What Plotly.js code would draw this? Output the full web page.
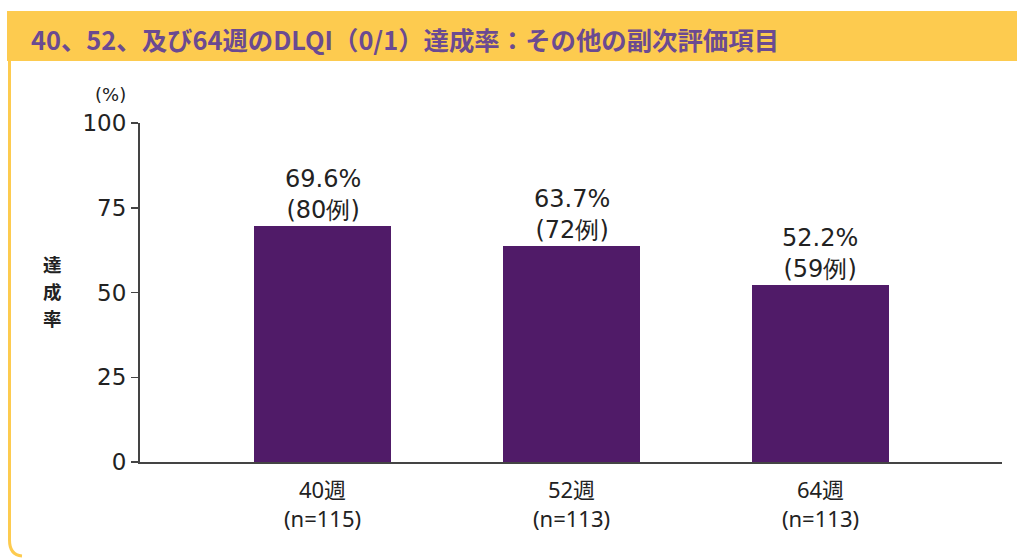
<!DOCTYPE html>
<html>
<head>
<meta charset="utf-8">
<script src="https://cdn.plot.ly/plotly-3.0.1.min.js"></script>
<style>
html,body{margin:0;padding:0;background:#fff;}
#chart{width:1017px;height:558px;}
</style>
</head>
<body>
<div id="chart"></div>
<script>
// ---- data ----
const weeks = ['40週', '52週', '64週'];
const nTotal = [115, 113, 113];
const rates = [69.6, 63.7, 52.2];
const counts = [80, 72, 59];
const yTicks = [0, 25, 50, 75, 100];

const titleText = '40、52、及び64週のDLQI（0/1）達成率：その他の副次評価項目';
const yTitle = '達成率';
const yUnit = '(%)';

// ---- styling ----
const barColor = '#501b68';
const axisColor = '#444444';
const textColor = '#222222';
const wideFont = 'DejaVu Sans';
const numFont = 'Noto Sans, Noto Sans CJK JP, sans-serif';
const cjkFont = 'Noto Sans CJK JP, sans-serif';
const frameColor = '#fdcb4f';

const xPos = weeks.map((_, i) => i);
const tickText = weeks.map((w, i) => w + '<br>(n=' + nTotal[i] + ')');

const trace = {
  type: 'bar',
  x: xPos,
  y: rates,
  width: 0.55,
  marker: {color: barColor},
  hoverinfo: 'none'
};

// plot area: x 140..1002, y 123..462
const W = 862, H = 339, L = 140, B = 462;
const px = v => (v - L) / W;
const py = v => (B - v) / H;

const annotations = rates.map((r, i) => ({
  x: xPos[i], y: r, xref: 'x', yref: 'y',
  text: r.toFixed(1) + '%<br>(' + counts[i] + '例)',
  showarrow: false, xanchor: 'center', yanchor: 'middle', yshift: 32,
  font: {family: wideFont, size: 24, color: textColor}
}));

annotations.push({
  x: px(29), y: py(39), xref: 'paper', yref: 'paper',
  text: '<b>' + titleText + '</b>', showarrow: false,
  xanchor: 'left', yanchor: 'middle',
  font: {family: cjkFont, size: 25.4, color: '#6b4a91'}
});
yTitle.split('').forEach((ch, k) => {
  annotations.push({
    x: px(52), y: py(264 + k * 27), xref: 'paper', yref: 'paper',
    text: '<b>' + ch + '</b>', showarrow: false,
    xanchor: 'center', yanchor: 'middle',
    font: {family: cjkFont, size: 18.5, color: textColor}
  });
});
annotations.push({
  x: px(128), y: py(95), xref: 'paper', yref: 'paper',
  text: yUnit, showarrow: false, xanchor: 'right', yanchor: 'middle',
  font: {family: wideFont, size: 18, color: textColor}
});

const shapes = [
  {type: 'rect', xref: 'paper', yref: 'paper',
   x0: px(7), x1: px(1020), y0: py(61), y1: py(11),
   fillcolor: frameColor, line: {width: 0}, layer: 'below'},
  {type: 'path', xref: 'paper', yref: 'paper',
   path: 'M ' + px(9.5) + ' ' + py(61) + ' L ' + px(9.5) + ' ' + py(540) +
         ' Q ' + px(9.5) + ' ' + py(555) + ' ' + px(22) + ' ' + py(556),
   line: {color: frameColor, width: 3}, layer: 'below'}
];

const layout = {
  width: 1017, height: 558,
  margin: {l: 140, r: 15, t: 123, b: 96},
  paper_bgcolor: '#ffffff', plot_bgcolor: '#ffffff',
  showlegend: false,
  bargap: 0,
  xaxis: {
    range: [-0.733, 2.729], tickvals: xPos, ticktext: tickText,
    showline: true, linecolor: axisColor, linewidth: 2,
    ticks: '', showgrid: false, zeroline: false, fixedrange: true,
    ticklabelstandoff: 8,
    tickfont: {family: numFont, size: 22, color: textColor}
  },
  yaxis: {
    range: [0, 100], tickvals: yTicks,
    showline: true, linecolor: axisColor, linewidth: 2,
    ticks: 'outside', ticklen: 7, tickwidth: 1.5, tickcolor: axisColor,
    showgrid: false, zeroline: false, fixedrange: true,
    tickfont: {family: wideFont, size: 23, color: textColor}
  },
  annotations: annotations,
  shapes: shapes
};

Plotly.newPlot('chart', [trace], layout, {displayModeBar: false, staticPlot: true});
</script>
</body>
</html>
